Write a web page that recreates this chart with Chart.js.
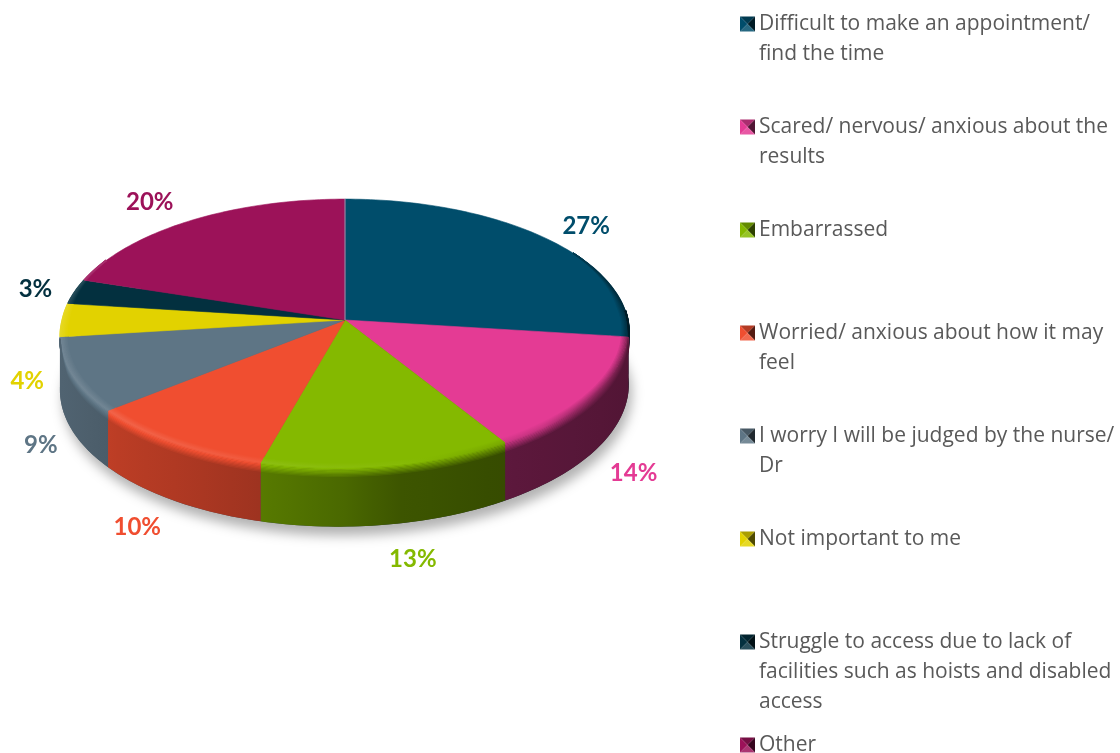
<!DOCTYPE html>
<html>
<head>
<meta charset="utf-8">
<title>Reasons for not attending</title>
<script src="https://cdn.jsdelivr.net/npm/chart.js@4"></script>
<style>
    html, body { margin: 0; padding: 0; background: #fff; }
    canvas { display: block; }
</style>
</head>
<body>
<canvas id="pie" width="1120" height="753"></canvas>
<script>
const categories = [
    "Difficult to make an appointment/ find the time",
    "Scared/ nervous/ anxious about the results",
    "Embarrassed",
    "Worried/ anxious about how it may feel",
    "I worry I will be judged by the nurse/ Dr",
    "Not important to me",
    "Struggle to access due to lack of facilities such as hoists and disabled access",
    "Other",
];
const percentages = [27, 14, 13, 10, 9, 4, 3, 20];
const sliceColors = ["#004d6b", "#e43b94", "#84b900", "#f04e30", "#5e7585", "#e2d200", "#03303f", "#9c1259"];

// pie tilt: half axes of the top face, perspective, lean of the front half and wall height
const radiusX = 283;
const radiusY = 133;
const perspective = -0.1;
const frontLean = 0.045;
const wallHeight = 53;
const pieLeft = 61;
const pieRight = 629;

// wall darkening from the left of the pie to the right
const wallShade = [[0, 0.85], [0.1, 0.78], [0.35, 0.66], [0.5, 0.56], [0.6, 0.46], [0.78, 0.41], [1, 0.36]];

// per-label shift away from the spot just outside its slice
const labelNudges = [[18, -1], [5, 11], [19, 13], [-12, 8], [6, 8], [2, 61], [-5, 1], [-23, -6]];

function project(arc, angle, r) {
    const u = r * Math.cos(angle);
    const v = r * Math.sin(angle);
    const d = 1 + perspective * v;
    const y = radiusY * v / d;
    const lean = y > 0 ? frontLean * y : 0;
    return { x: arc.x + radiusX * u / d - lean, y: arc.y + y, drop: wallHeight / d, v: v };
}

function shade(hex, f) {
    const n = parseInt(hex.slice(1), 16);
    const c = [n >> 16, (n >> 8) & 255, n & 255].map((ch) => {
        const out = f <= 1 ? ch * f : ch + (255 - ch) * (f - 1);
        return Math.round(out);
    });
    return "rgb(" + c.join(",") + ")";
}

function wallFraction(frac) {
    for (let i = 1; i < wallShade.length; i++) {
        if (frac <= wallShade[i][0]) {
            const a = wallShade[i - 1];
            const b = wallShade[i];
            return a[1] + (b[1] - a[1]) * (frac - a[0]) / (b[0] - a[0]);
        }
    }
    return wallShade[wallShade.length - 1][1];
}

// how far the rim falls into shade towards the right
function rimDarkening(frac) {
    return Math.max(0, frac - 0.6) * 0.5 + Math.max(0, frac - 0.85) * 2;
}

function sliceAngles(arc, lo, hi) {
    const start = Math.max(arc.startAngle, lo);
    const end = Math.min(arc.endAngle, hi);
    const list = [];
    if (end <= start) {
        return list;
    }
    const steps = Math.max(2, Math.ceil((end - start) / 0.02));
    for (let i = 0; i <= steps; i++) {
        list.push(start + (end - start) * i / steps);
    }
    return list;
}

function horizontalGradient(ctx, color, profile) {
    const grad = ctx.createLinearGradient(pieLeft, 0, pieRight, 0);
    for (let i = 0; i <= 20; i++) {
        grad.addColorStop(i / 20, shade(color, profile(i / 20)));
    }
    return grad;
}

function drawPie(ctx, arcs) {
    const first = arcs[0];
    const wallLo = -15 * Math.PI / 180;
    const wallHi = 173 * Math.PI / 180;

    // soft shadow under the whole disc, the left end of the wall shows through
    ctx.save();
    ctx.shadowColor = "rgba(0,0,0,0.3)";
    ctx.shadowBlur = 12;
    ctx.shadowOffsetX = 3;
    ctx.shadowOffsetY = 9;
    ctx.fillStyle = horizontalGradient(ctx, sliceColors[4], wallFraction);
    ctx.beginPath();
    for (let i = 0; i <= 180; i++) {
        const p = project(first, i * Math.PI / 90, 1);
        ctx.lineTo(p.x, p.y + p.drop);
    }
    ctx.closePath();
    ctx.fill();
    ctx.restore();

    // side walls
    arcs.forEach((arc, idx) => {
        const angles = sliceAngles(arc, wallLo, wallHi);
        if (!angles.length) {
            return;
        }
        ctx.fillStyle = horizontalGradient(ctx, sliceColors[idx], wallFraction);
        ctx.beginPath();
        angles.forEach((a) => {
            const p = project(arc, a, 1);
            ctx.lineTo(p.x, p.y);
        });
        angles.slice().reverse().forEach((a) => {
            const p = project(arc, a, 1);
            ctx.lineTo(p.x, p.y + p.drop);
        });
        ctx.closePath();
        ctx.fill();
    });

    // top faces
    arcs.forEach((arc, idx) => {
        ctx.fillStyle = sliceColors[idx];
        ctx.strokeStyle = sliceColors[idx];
        ctx.lineWidth = 0.6;
        ctx.beginPath();
        ctx.moveTo(arc.x, arc.y);
        sliceAngles(arc, -Infinity, Infinity).forEach((a) => {
            const p = project(arc, a, 1);
            ctx.lineTo(p.x, p.y);
        });
        ctx.closePath();
        ctx.fill();
        ctx.stroke();
    });

    // rounded rim: inner band on the top face, then down onto the wall
    const rimLo = -32 * Math.PI / 180;
    const rimHi = 208 * Math.PI / 180;
    const lipLo = -4 * Math.PI / 180;
    const lipHi = 172 * Math.PI / 180;
    const rimSteps = 14;
    ctx.lineWidth = 1.6;
    ctx.lineJoin = "round";
    arcs.forEach((arc, idx) => {
        for (let s = 0; s <= rimSteps; s++) {
            const t = s / rimSteps;
            const inner = t < 0.45;
            const angles = inner ? sliceAngles(arc, rimLo, rimHi) : sliceAngles(arc, lipLo, lipHi);
            if (!angles.length) {
                continue;
            }
            ctx.strokeStyle = horizontalGradient(ctx, sliceColors[idx], (frac) => {
                const wall = wallFraction(frac);
                const peak = 1 + Math.max(0, 1 - frac / 0.72) * 0.14;
                if (inner) {
                    const edge = t / 0.45;
                    return 1 + (peak - 1) * edge - rimDarkening(frac) * edge;
                }
                const fall = (t - 0.45) / 0.55;
                const base = peak - rimDarkening(frac);
                return base + (wall - base) * fall;
            });
            ctx.beginPath();
            angles.forEach((a) => {
                let p;
                if (inner) {
                    const fade = Math.min(1, Math.max(0, Math.min(a - rimLo, rimHi - a) / 0.45));
                    p = project(arc, a, 1 - 0.028 * fade * (1 - t / 0.45));
                    ctx.lineTo(p.x, p.y);
                } else {
                    const fade = Math.min(1, Math.max(0, Math.min(a - lipLo, lipHi - a) / 0.2));
                    p = project(arc, a, 1);
                    ctx.lineTo(p.x, p.y + 10 * fade * (t - 0.45) / 0.55);
                }
            });
            ctx.stroke();
        }
    });

    // thin seam where the ring starts
    const seam = project(first, first.startAngle, 1);
    ctx.strokeStyle = "rgba(150,165,185,0.7)";
    ctx.lineWidth = 1.3;
    ctx.beginPath();
    ctx.moveTo(first.x, first.y);
    ctx.lineTo(seam.x, seam.y);
    ctx.stroke();
}

const pie3d = {
    id: "pie3d",
    beforeDatasetDraw(chart, args) {
        drawPie(chart.ctx, args.meta.data);
        return false;
    },
    afterDatasetsDraw(chart) {
        const ctx = chart.ctx;
        const arcs = chart.getDatasetMeta(0).data;
        ctx.save();
        ctx.font = "bold 24px Lato";
        ctx.textAlign = "center";
        ctx.textBaseline = "middle";
        arcs.forEach((arc, idx) => {
            const mid = (arc.startAngle + arc.endAngle) / 2;
            const p = project(arc, mid, 1.13);
            const drop = p.v > 0 ? p.drop * Math.min(1, p.v * 2.2) : 0;
            ctx.fillStyle = sliceColors[idx];
            ctx.fillText(percentages[idx] + "%", p.x + labelNudges[idx][0], p.y + drop + labelNudges[idx][1]);
        });
        ctx.restore();
    },
    afterDraw(chart) {
        const ctx = chart.ctx;
        const textX = 759;
        const rowTop = 24.5;
        const rowStep = 103;
        const lineStep = 30;
        const maxWidth = 358;
        ctx.save();
        ctx.font = "21px 'Open Sans'";
        ctx.textAlign = "left";
        ctx.textBaseline = "middle";
        categories.forEach((name, idx) => {
            const y = rowTop + idx * rowStep;
            drawLegendIcon(ctx, 740, y - 8, 15, sliceColors[idx]);
            ctx.fillStyle = "#595959";
            let line = "";
            let row = 0;
            name.split(" ").forEach((word) => {
                const next = line ? line + " " + word : word;
                if (ctx.measureText(next).width > maxWidth) {
                    ctx.fillText(line, textX, y + row * lineStep);
                    row++;
                    line = word;
                } else {
                    line = next;
                }
            });
            ctx.fillText(line, textX, y + row * lineStep);
        });
        ctx.restore();
    },
};

// small bevelled square used as the legend key
function drawLegendIcon(ctx, x, y, size, color) {
    const cx = x + size / 2;
    const cy = y + size / 2;
    const sides = [
        [[x, y], [x + size, y], 0.75],
        [[x + size, y], [x + size, y + size], 0.35],
        [[x + size, y + size], [x, y + size], 1.15],
        [[x, y + size], [x, y], 1],
    ];
    sides.forEach((side) => {
        ctx.fillStyle = shade(color, side[2]);
        ctx.beginPath();
        ctx.moveTo(side[0][0], side[0][1]);
        ctx.lineTo(side[1][0], side[1][1]);
        ctx.lineTo(cx, cy);
        ctx.closePath();
        ctx.fill();
    });
}

new Chart(document.getElementById("pie"), {
    type: "pie",
    data: {
        labels: categories,
        datasets: [
            {
                data: percentages,
                backgroundColor: sliceColors,
                borderWidth: 0,
            },
        ],
    },
    options: {
        responsive: false,
        animation: false,
        layout: {
            padding: { left: 0, top: 0, right: 430, bottom: 113 },
        },
        plugins: {
            legend: { display: false },
            tooltip: { enabled: false },
        },
    },
    plugins: [pie3d],
});
</script>
</body>
</html>
